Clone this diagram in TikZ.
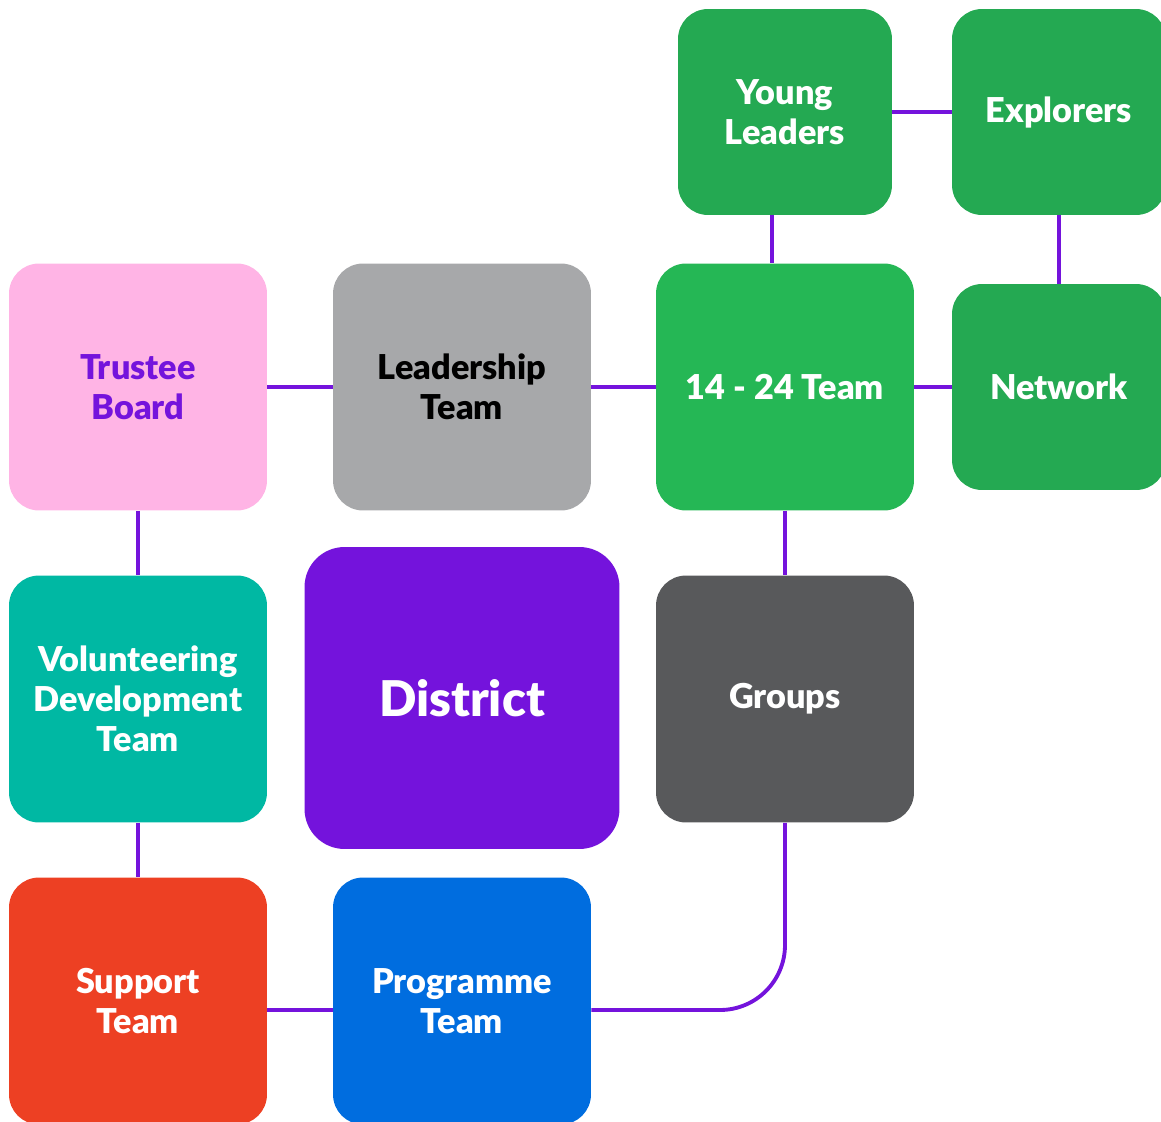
\documentclass[tikz,border=0pt]{standalone}
\usepackage{fontspec}
\setmainfont{Lato}[BoldFont={Lato Black}]
\usepackage{tikz}
\usetikzlibrary{calc}
\definecolor{scoutpurple}{HTML}{7413DC}
\definecolor{scoutgreen}{HTML}{24A952}
\definecolor{brightgreen}{HTML}{25B755}
\definecolor{scoutpink}{HTML}{FFB4E5}
\definecolor{scoutgrey}{HTML}{A7A8AA}
\definecolor{scoutteal}{HTML}{00B8A3}
\definecolor{darkgrey}{HTML}{58595B}
\definecolor{scoutred}{HTML}{ED4023}
\definecolor{scoutblue}{HTML}{006DDF}
\tikzset{
  box/.style={rounded corners=0.6cm, minimum width=5.16cm, minimum height=4.94cm,
    align=center, text=white, font=\fontsize{19.5}{22.7}\selectfont\bfseries},
  smallbox/.style={box, minimum width=4.28cm, minimum height=4.12cm},
  link/.style={scoutpurple, line width=2.2pt}
}

\begin{document}
\begin{tikzpicture}[x=0.02cm, y=-0.02cm]
\useasboundingbox (0,0) rectangle (1161,1122);
%top row
\node[smallbox, fill=scoutgreen] (young) at (785,112) {Young\\Leaders};
\node[smallbox, fill=scoutgreen] (explorers) at (1059,112) {Explorers};
%middle row
\node[box, fill=scoutpink, text=scoutpurple] (trustee) at (138,387) {Trustee\\Board};
\node[box, fill=scoutgrey, text=black] (leadership) at (462,387) {Leadership\\Team};
\node[box, fill=brightgreen] (team) at (785,387) {14 - 24 Team};
\node[smallbox, fill=scoutgreen] (network) at (1059,387) {Network};
%centre row
\node[box, fill=scoutteal] (volunteering) at (138,699) {Volunteering\\Development\\Team};
\node[box, fill=scoutpurple, minimum width=6.3cm, minimum height=6.04cm, rounded corners=0.8cm,
  font=\fontsize{28}{32}\selectfont\bfseries] (district) at (462,698) {District};
\node[box, fill=darkgrey] (groups) at (785,699) {Groups};
%bottom row
\node[box, fill=scoutred] (support) at (138,1001) {Support\\Team};
\node[box, fill=scoutblue] (programme) at (462,1001) {Programme\\Team};

%links
\draw[link] (trustee) -- (leadership);
\draw[link] (leadership) -- (team);
\draw[link] (team) -- (network);
\draw[link] (young) -- (explorers);
\draw[link] ([xshift=-0.26cm]young.south) -- ([xshift=-0.26cm]young.south |- team.north);
\draw[link] (explorers) -- (network);
\draw[link] (team) -- (groups);
\draw[link] (trustee) -- (volunteering);
\draw[link] (volunteering) -- (support);
\draw[link] ([yshift=-0.18cm]support.east) -- ([yshift=-0.18cm]programme.west);
\draw[link, rounded corners=1.3cm] ([yshift=-0.18cm]programme.east) -| (groups.south);
\end{tikzpicture}
\end{document}
